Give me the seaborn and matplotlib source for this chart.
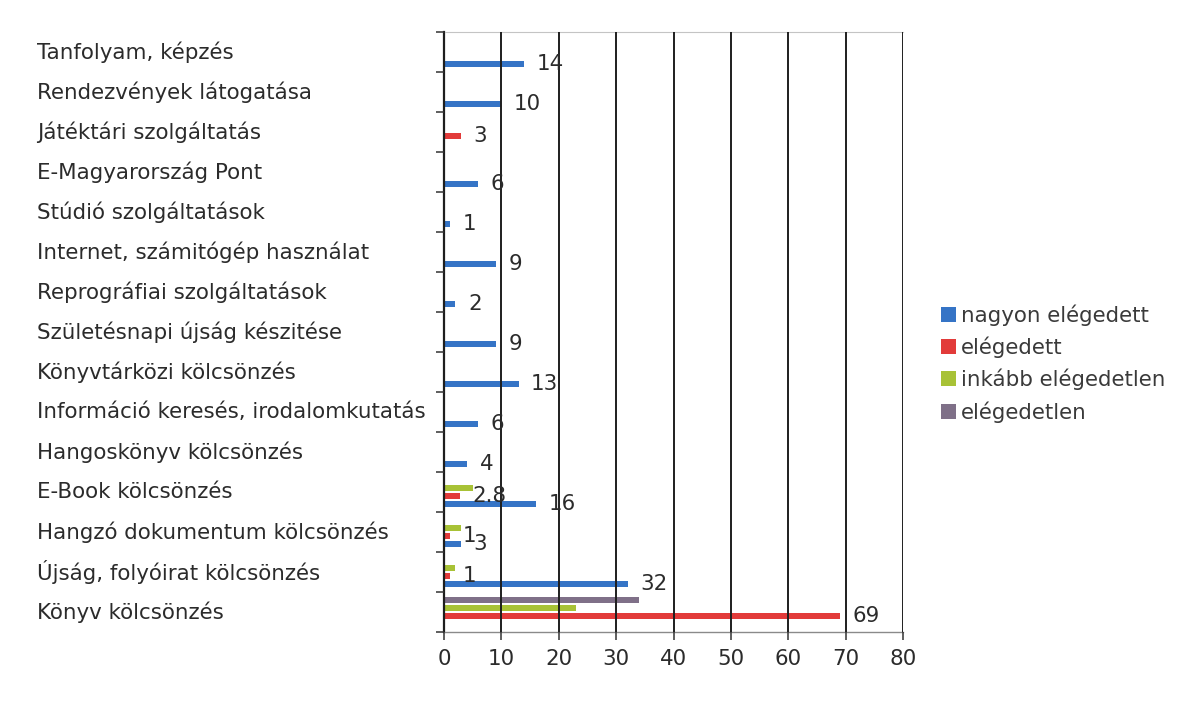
import matplotlib
matplotlib.use("Agg")
import matplotlib.pyplot as plt
import matplotlib.transforms as mtransforms
from matplotlib.patches import Patch
import pandas as pd
import seaborn as sns

# Library services (top to bottom)
categories = [
    "Tanfolyam, képzés",
    "Rendezvények látogatása",
    "Játéktári szolgáltatás",
    "E-Magyarország Pont",
    "Stúdió szolgáltatások",
    "Internet, számitógép használat",
    "Reprográfiai szolgáltatások",
    "Születésnapi újság készitése",
    "Könyvtárközi kölcsönzés",
    "Információ keresés, irodalomkutatás",
    "Hangoskönyv kölcsönzés",
    "E-Book kölcsönzés",
    "Hangzó dokumentum kölcsönzés",
    "Újság, folyóirat kölcsönzés",
    "Könyv kölcsönzés",
]

nagyon_elegedett = [14, 10, 0, 6, 1, 9, 2, 9, 13, 6, 4, 16, 3, 32, 0]
elegedett = [0, 0, 3, 0, 0, 0, 0, 0, 0, 0, 0, 2.8, 1, 1, 69]
inkabb_elegedetlen = [0, 0, 0, 0, 0, 0, 0, 0, 0, 0, 0, 5, 3, 2, 23]
elegedetlen = [0, 0, 0, 0, 0, 0, 0, 0, 0, 0, 0, 0, 0, 0, 34]

series_names = ["nagyon elégedett", "elégedett", "inkább elégedetlen", "elégedetlen"]
series_values = [nagyon_elegedett, elegedett, inkabb_elegedetlen, elegedetlen]
series_colors = ["#3574c6", "#e23b3a", "#a8c236", "#7f7088"]
labelled_series = ["nagyon elégedett", "elégedett"]

x_ticks = [0, 10, 20, 30, 40, 50, 60, 70, 80]

# Long-format table for seaborn
rows = []
for name, vals in zip(series_names, series_values):
    for cat, v in zip(categories, vals):
        rows.append({"kategória": cat, "sorozat": name, "érték": v})
df = pd.DataFrame(rows)

values_by_series = dict(zip(series_names, series_values))
color_by_series = dict(zip(series_names, series_colors))
# within each group the last series sits at the top, the first at the bottom
draw_order = series_names[::-1]

sns.set_theme(style="white")
plt.rcParams["font.family"] = ["DejaVu Sans"]
FS = 15.4
TXT = "#2b2b2b"

fig = plt.figure(figsize=(11.92, 7.01), dpi=100)
ax = fig.add_axes([444 / 1192, 1 - 632 / 701, (903 - 444) / 1192, (632 - 32) / 701])

sns.barplot(
    data=df, y="kategória", x="érték", hue="sorozat",
    order=categories, hue_order=draw_order,
    palette=color_by_series, saturation=1, orient="h",
    width=0.8, gap=0.2, errorbar=None, legend=False,
    linewidth=0, ax=ax,
)
for cont in ax.containers:
    for patch in cont.patches:
        patch.set_zorder(1)

ax.set_xlim(0, 80)
ax.set_ylim(len(categories) - 0.5, -0.5)
ax.set_xlabel("")
ax.set_ylabel("")

# vertical gridlines drawn over the bars
ax.set_axisbelow(False)
ax.set_xticks(x_ticks)
ax.grid(axis="x", color="#1e1e1e", linewidth=1.4)
ax.grid(axis="y", visible=False)
ax.tick_params(axis="x", direction="out", length=6, width=1.1, color="#333333",
               labelsize=FS, labelcolor=TXT, pad=6, bottom=True)

# category boundaries as short outward ticks on the left axis
ax.set_yticks(range(len(categories)))
ax.set_yticklabels([])
ax.tick_params(axis="y", which="major", length=0, left=False)
ax.set_yticks([i - 0.5 for i in range(len(categories) + 1)], minor=True)
ax.tick_params(axis="y", which="minor", direction="out", length=6, width=1.1,
               color="#333333", left=True)

for side, sp in ax.spines.items():
    sp.set_visible(True)
ax.spines["left"].set_color("#1e1e1e")
ax.spines["left"].set_linewidth(1.6)
ax.spines["bottom"].set_color("#8a8a8a")
ax.spines["bottom"].set_linewidth(1.0)
ax.spines["top"].set_color("#c4c4c4")
ax.spines["top"].set_linewidth(0.8)
ax.spines["right"].set_visible(False)

# left-aligned category names
trans = mtransforms.blended_transform_factory(fig.transFigure, ax.transData)
for i, cat in enumerate(categories):
    ax.text(37 / 1192, i, cat, transform=trans, ha="left", va="center",
            fontsize=FS, color=TXT, clip_on=False)

# value labels for the first two series
for name, cont in zip(draw_order, ax.containers):
    if name not in labelled_series:
        continue
    vals = values_by_series[name]
    labels = []
    for patch in cont.patches:
        idx = int(round(patch.get_y() + patch.get_height() / 2))
        v = vals[idx]
        labels.append(f"{v:g}" if v > 0 else "")
    ax.bar_label(cont, labels=labels, padding=9, fontsize=FS, color=TXT)

handles = [Patch(facecolor=color_by_series[n], edgecolor="none") for n in series_names]
fig.legend(handles, series_names, loc="upper left",
           bbox_to_anchor=(932 / 1192, 1 - 296 / 701), frameon=False,
           fontsize=FS, labelcolor="#3a3a3a", handlelength=0.7, handleheight=0.7,
           handletextpad=0.25, labelspacing=0.5, borderaxespad=0)

fig.savefig("out.png", dpi=100)
